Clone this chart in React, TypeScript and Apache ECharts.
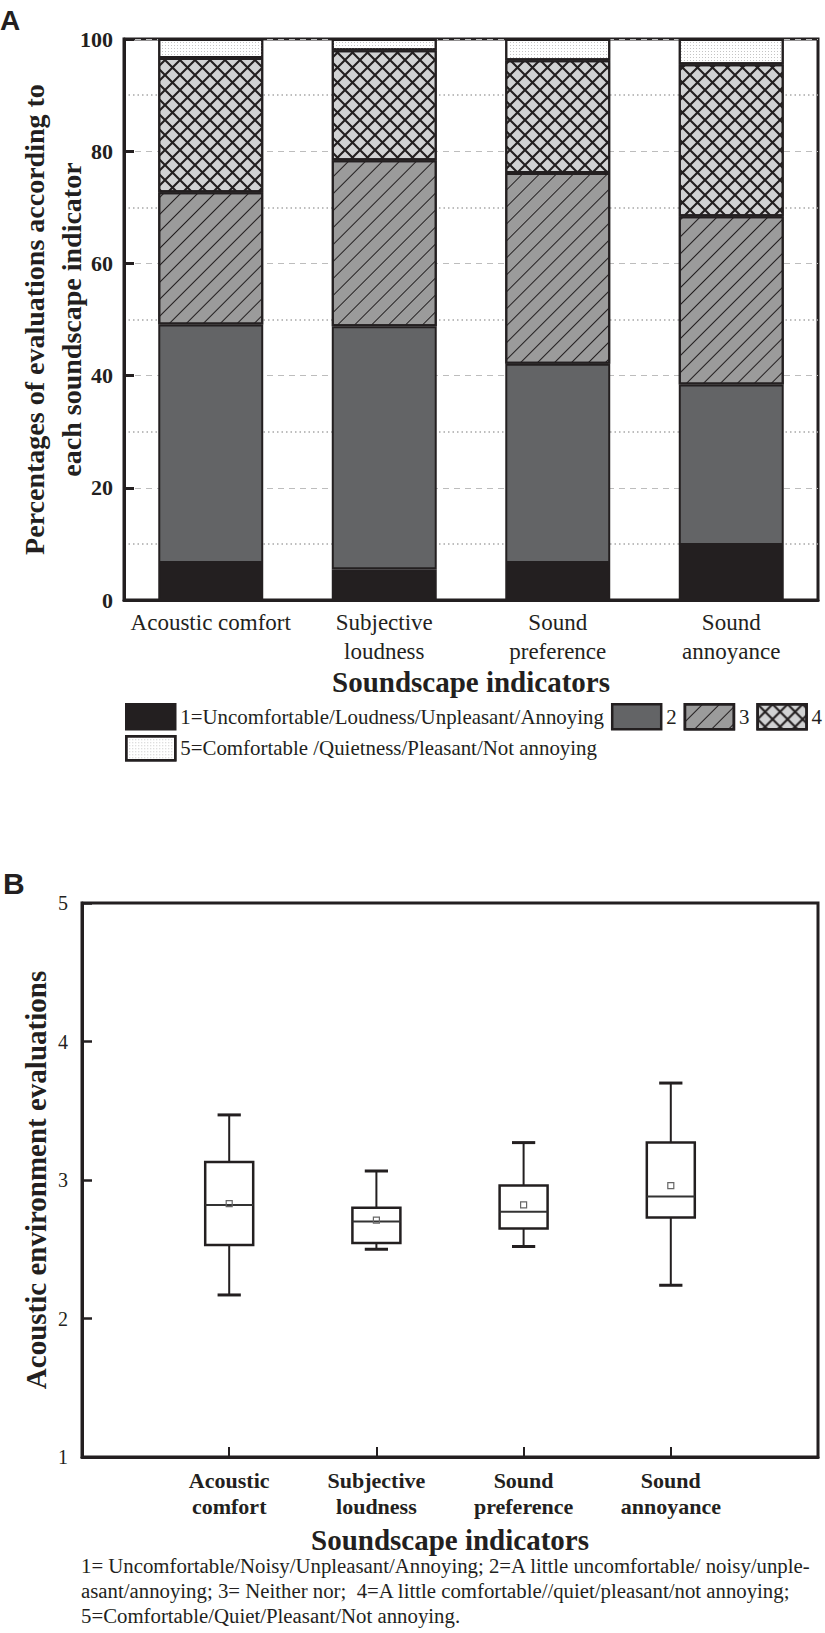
import React, { useEffect, useRef } from 'react';
import * as echarts from 'echarts';

// ---------- Panel A data ----------
const categoriesA = ['Acoustic comfort', 'Subjective\nloudness', 'Sound\npreference', 'Sound\nannoyance'];
const levelNames = [
  '1=Uncomfortable/Loudness/Unpleasant/Annoying',
  '2',
  '3',
  '4',
  '5=Comfortable /Quietness/Pleasant/Not annoying',
];
const level1 = [6.6, 5.5, 6.6, 9.8];
const level2 = [42.5, 43.3, 35.5, 28.6];
const level3 = [23.6, 29.6, 34.0, 30.0];
const level4 = [23.9, 19.6, 20.1, 27.1];
const level5 = [3.4, 2.0, 3.8, 4.5];
const yTicksA = [0, 20, 40, 60, 80, 100];

// ---------- Panel B data ----------
const categoriesB = ['Acoustic\ncomfort', 'Subjective\nloudness', 'Sound\npreference', 'Sound\nannoyance'];
const boxMin = [2.17, 2.5, 2.52, 2.24];
const boxQ1 = [2.53, 2.545, 2.65, 2.73];
const boxMedian = [2.82, 2.7, 2.77, 2.88];
const boxQ3 = [3.13, 2.8, 2.96, 3.27];
const boxMax = [3.47, 3.065, 3.27, 3.7];
const boxMean = [2.83, 2.71, 2.82, 2.96];
const yTicksB = [1, 2, 3, 4, 5];

const footnote =
  '1= Uncomfortable/Noisy/Unpleasant/Annoying; 2=A little uncomfortable/ noisy/unple-\n' +
  'asant/annoying; 3= Neither nor;  4=A little comfortable//quiet/pleasant/not annoying;\n' +
  '5=Comfortable/Quiet/Pleasant/Not annoying.';

const SERIF = 'Liberation Serif, serif';
const SANS = 'Liberation Sans, sans-serif';
const INK = '#231f20';

function buildOption() {
  const levels = [level1, level2, level3, level4, level5];
  const fills = ['#231f20', '#636466', '#9b9b9b', '#d1d2d3', '#ffffff'];
  const decals: any[] = [
    null,
    null,
    {
      symbol: 'rect',
      symbolSize: 1,
      dashArrayX: [[1, 0]],
      dashArrayY: [1, 11],
      rotation: -Math.PI / 4,
      color: INK,
    },
    {
      symbol:
        'path://M0,0L1.5,0L15,13.5L15,15L13.5,15L0,1.5ZM13.5,0L15,0L15,1.5L1.5,15L0,15L0,13.5Z',
      symbolSize: 1,
      symbolKeepAspect: false,
      dashArrayX: [[15, 0]],
      dashArrayY: [15, 0],
      rotation: 0,
      color: INK,
    },
    {
      symbol: 'rect',
      symbolSize: 1,
      dashArrayX: [[1, 2]],
      dashArrayY: [1, 2],
      rotation: 0,
      color: '#c4c4c4',
    },
  ];

  const barSeries = levels.map((vals, i) => ({
    name: levelNames[i],
    type: 'bar',
    stack: 'total',
    xAxisIndex: 0,
    yAxisIndex: 0,
    barWidth: '60.5%',
    data: vals,
    itemStyle: {
      color: fills[i],
      borderColor: INK,
      borderWidth: 2,
      ...(decals[i] ? { decal: decals[i] } : {}),
    },
    emphasis: { disabled: true },
  }));

  const boxData = categoriesB.map((_, i) => [
    i + 1,
    boxMin[i],
    boxQ1[i],
    boxMedian[i],
    boxQ3[i],
    boxMax[i],
    boxMean[i],
  ]);

  const boxSeries = {
    type: 'custom',
    name: 'evaluations',
    xAxisIndex: 1,
    yAxisIndex: 1,
    data: boxData,
    encode: { x: 0, y: [1, 2, 3, 4, 5, 6] },
    renderItem: (params: any, api: any) => {
      const xv = api.value(0);
      const pMin = api.coord([xv, api.value(1)]);
      const pQ1 = api.coord([xv, api.value(2)]);
      const pMed = api.coord([xv, api.value(3)]);
      const pQ3 = api.coord([xv, api.value(4)]);
      const pMax = api.coord([xv, api.value(5)]);
      const pMean = api.coord([xv, api.value(6)]);
      const band = api.size([1, 0])[0];
      const half = band * 0.163;
      const capHalf = band * 0.079;
      const cx = pMin[0];
      return {
        type: 'group',
        children: [
          { type: 'line', shape: { x1: cx, y1: pMax[1], x2: cx, y2: pQ3[1] }, style: { stroke: INK, lineWidth: 2 } },
          { type: 'line', shape: { x1: cx, y1: pQ1[1], x2: cx, y2: pMin[1] }, style: { stroke: INK, lineWidth: 2 } },
          { type: 'line', shape: { x1: cx - capHalf, y1: pMax[1], x2: cx + capHalf, y2: pMax[1] }, style: { stroke: INK, lineWidth: 3 } },
          { type: 'line', shape: { x1: cx - capHalf, y1: pMin[1], x2: cx + capHalf, y2: pMin[1] }, style: { stroke: INK, lineWidth: 3 } },
          {
            type: 'rect',
            shape: { x: cx - half, y: pQ3[1], width: half * 2, height: pQ1[1] - pQ3[1] },
            style: { fill: '#ffffff', stroke: INK, lineWidth: 2.5 },
          },
          { type: 'line', shape: { x1: cx - half, y1: pMed[1], x2: cx + half, y2: pMed[1] }, style: { stroke: '#333333', lineWidth: 2 } },
          {
            type: 'rect',
            shape: { x: pMean[0] - 3, y: pMean[1] - 3, width: 6, height: 6 },
            style: { fill: 'none', stroke: '#666666', lineWidth: 1.2 },
          },
        ],
      };
    },
  };

  const legendText = { fontFamily: SERIF, fontSize: 20.9, color: INK };
  const legendItemStyle = { borderColor: INK, borderWidth: 2.5 };

  return {
    animation: false,
    backgroundColor: '#ffffff',
    textStyle: { fontFamily: SERIF },
    grid: [
      { left: 124, top: 39, width: 694, height: 561, show: true, borderColor: INK, borderWidth: 3, backgroundColor: 'transparent' },
      { left: 82, top: 903, width: 736, height: 554, show: true, borderColor: INK, borderWidth: 3, backgroundColor: 'transparent' },
    ],
    legend: [
      {
        data: levelNames.slice(0, 4),
        left: 125,
        top: 703,
        width: 700,
        padding: 0,
        itemWidth: 49,
        itemHeight: 25,
        itemGap: 7,
        icon: 'rect',
        selectedMode: false,
        itemStyle: legendItemStyle,
        textStyle: legendText,
      },
      {
        data: levelNames.slice(4),
        left: 125,
        top: 735,
        width: 700,
        padding: 0,
        itemWidth: 49,
        itemHeight: 24,
        icon: 'rect',
        selectedMode: false,
        itemStyle: legendItemStyle,
        textStyle: legendText,
      },
    ],
    xAxis: [
      {
        type: 'category',
        gridIndex: 0,
        data: categoriesA,
        boundaryGap: true,
        axisLine: { lineStyle: { color: INK, width: 3 } },
        axisTick: { show: false },
        axisLabel: { fontFamily: SERIF, fontSize: 23, color: INK, lineHeight: 29, margin: 8, interval: 0 },
        name: 'Soundscape indicators',
        nameLocation: 'middle',
        nameGap: 67,
        nameMoveOverlap: false,
        nameTextStyle: { fontFamily: SERIF, fontSize: 29, fontWeight: 'bold', color: INK },
        splitLine: { show: false },
      },
      {
        type: 'value',
        gridIndex: 1,
        min: 0,
        max: 5,
        interval: 1,
        axisLine: { lineStyle: { color: INK, width: 3 } },
        axisTick: { show: true, inside: true, length: 10, lineStyle: { color: INK, width: 2 } },
        axisLabel: {
          fontFamily: SERIF,
          fontSize: 22,
          fontWeight: 'bold',
          color: INK,
          lineHeight: 26,
          margin: 10,
          formatter: (v: number) => categoriesB[v - 1] || '',
        },
        splitLine: { show: false },
        name: 'Soundscape indicators',
        nameLocation: 'middle',
        nameGap: 70,
        nameMoveOverlap: false,
        nameTextStyle: { fontFamily: SERIF, fontSize: 29, fontWeight: 'bold', color: INK, lineHeight: 26 },
      },
    ],
    yAxis: [
      {
        type: 'value',
        gridIndex: 0,
        min: yTicksA[0],
        max: yTicksA[yTicksA.length - 1],
        interval: 20,
        axisLine: { show: true, lineStyle: { color: INK, width: 3 } },
        axisTick: { show: true, inside: true, length: 10, lineStyle: { color: INK, width: 3 } },
        axisLabel: { fontFamily: SERIF, fontSize: 22, fontWeight: 'bold', color: INK, margin: 11 },
        splitLine: { show: true, lineStyle: { color: '#bdbdbd', type: [6, 5], width: 1 } },
        minorTick: { show: false, splitNumber: 2 },
        minorSplitLine: { show: true, lineStyle: { color: '#a8a8a8', type: [1.5, 3], width: 1.5 } },
        name: 'Percentages of evaluations according to\neach soundscape indicator',
        nameLocation: 'middle',
        nameRotate: 90,
        nameGap: 34,
        nameMoveOverlap: false,
        nameTextStyle: { fontFamily: SERIF, fontSize: 28, fontWeight: 'bold', color: INK, lineHeight: 37 },
      },
      {
        type: 'value',
        gridIndex: 1,
        min: yTicksB[0],
        max: yTicksB[yTicksB.length - 1],
        interval: 1,
        axisLine: { show: true, lineStyle: { color: INK, width: 3 } },
        axisTick: { show: true, inside: true, length: 10, lineStyle: { color: INK, width: 2.5 } },
        axisLabel: { fontFamily: SERIF, fontSize: 20, color: INK, margin: 14 },
        splitLine: { show: false },
        name: 'Acoustic environment evaluations',
        nameLocation: 'middle',
        nameRotate: 90,
        nameGap: 32,
        nameMoveOverlap: false,
        nameTextStyle: { fontFamily: SERIF, fontSize: 29, fontWeight: 'bold', color: INK },
      },
    ],
    graphic: [
      {
        type: 'text',
        left: 0,
        top: 6,
        style: { text: 'A', fontFamily: SANS, fontWeight: 'bold', fontSize: 28, fill: INK },
      },
      {
        type: 'text',
        left: 3,
        top: 868,
        style: { text: 'B', fontFamily: SANS, fontWeight: 'bold', fontSize: 30, fill: INK },
      },
      {
        type: 'text',
        left: 81,
        top: 1553,
        style: { text: footnote, fontFamily: SERIF, fontSize: 20.8, fill: INK, lineHeight: 24.8 },
      },
    ],
    series: [...barSeries, boxSeries],
  };
}

export default function App() {
  const ref = useRef<HTMLDivElement>(null);
  useEffect(() => {
    if (!ref.current) return;
    const chart = echarts.init(ref.current, null, { renderer: 'svg' });
    chart.setOption(buildOption() as any);
    return () => chart.dispose();
  }, []);
  return (
    <div
      ref={ref}
      style={{ position: 'absolute', left: 0, top: 0, width: 825, height: 1633, background: '#ffffff' }}
    />
  );
}
